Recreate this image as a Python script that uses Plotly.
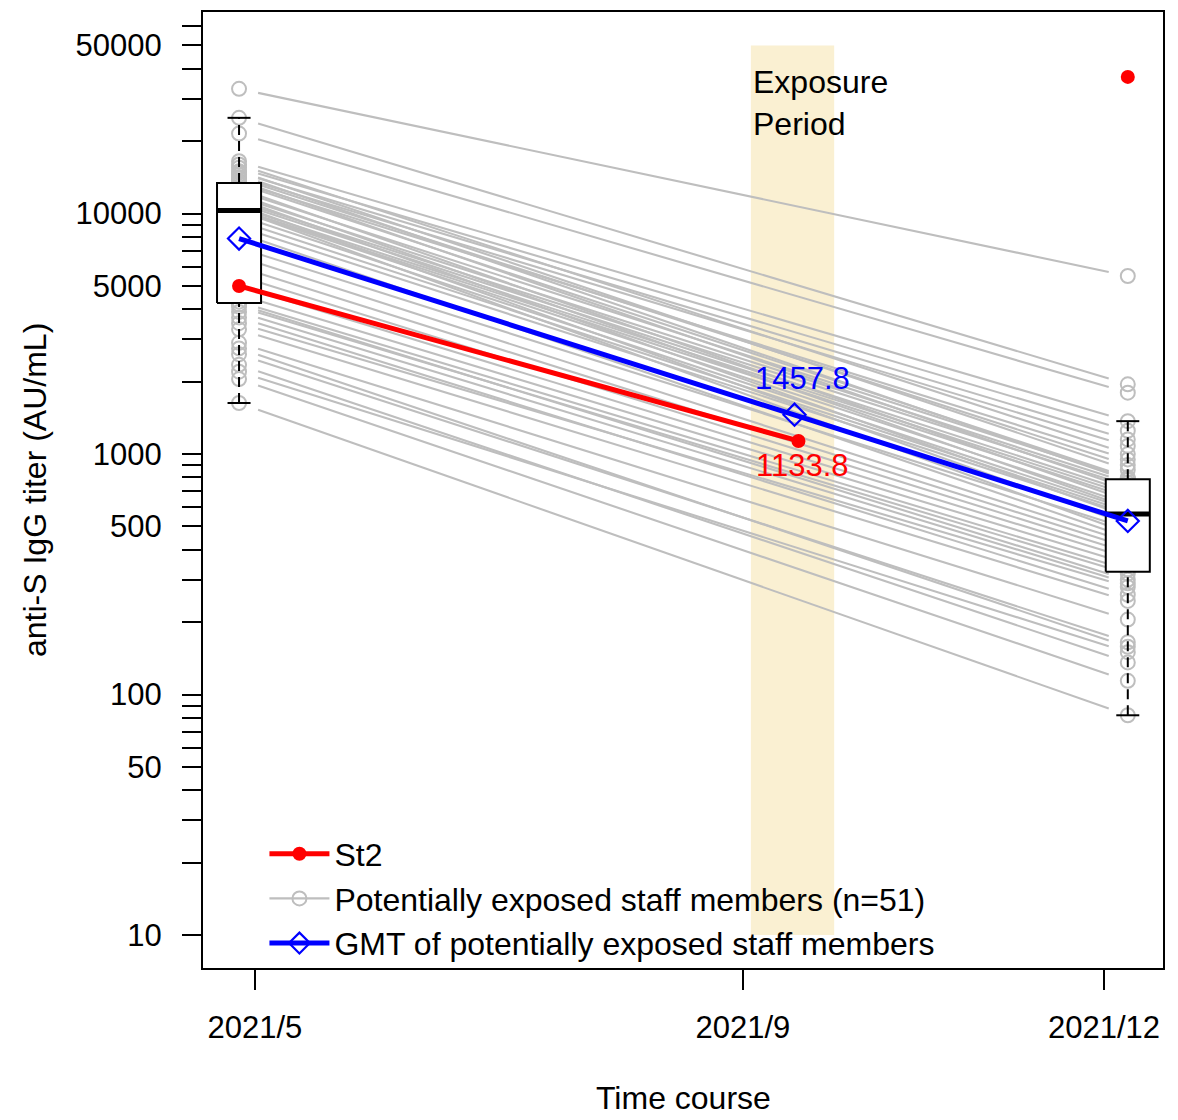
import numpy as np
import pandas as pd
import plotly.graph_objects as go

# ---------------- data ----------------
dates = ["2021-04-27", "2021-12-07"]            # staff sampling dates
staff_may = [33000, 25000, 21500, 16500, 16000, 15500, 15000, 14800, 14500, 14200,
             14000, 13700, 13500, 13300, 12700, 12400, 12000, 11700, 11500, 11200,
             11000, 10800, 10600, 10400, 10300, 10290, 9800, 9300, 8800, 8300,
             7800, 7200, 6600, 6000, 5500, 5000, 4600, 4300, 4190, 4100,
             3900, 3700, 3500, 3300, 2900, 2750, 2600, 2350, 2200, 2050, 1630]
staff_dec = [5500, 1950, 1800, 1370, 1000, 1250, 860, 1150, 780, 1080,
             900, 720, 950, 800, 640, 790, 600, 760, 550, 740,
             700, 510, 680, 660, 470, 620, 590, 575, 563, 450,
             530, 490, 430, 410, 390, 370, 350, 330, 300, 318,
             290, 260, 280, 245, 205, 158, 165, 136, 150, 114, 82]

st2_dates = ["2021-04-27", "2021-09-15"]
st2_vals = [5000, 1133.8]
st2_dec_date = ["2021-12-07"]
st2_dec_val = [37000]

gmt_dates = ["2021-04-27", "2021-09-14", "2021-12-07"]
gmt_vals = [7870, 1457.8, 527]

exposure = ["2021-09-03", "2021-09-24"]
exposure_y = [10, 50000]
x_ticks = ["2021-05-01", "2021-09-01", "2021-12-01"]
x_ticktext = ["2021/5", "2021/9", "2021/12"]
y_labeled = [10, 50, 100, 500, 1000, 5000, 10000, 50000]

FONT = "Liberation Sans, Arial, sans-serif"
GRAY = "#BEBEBE"

fig = go.Figure()

# ---------------- exposure period (background band) ----------------
fig.add_trace(go.Scatter(x=[exposure[0], exposure[1], exposure[1], exposure[0], exposure[0]],
                         y=[exposure_y[0], exposure_y[0], exposure_y[1], exposure_y[1], exposure_y[0]],
                         mode="lines", fill="toself", fillcolor="#FAF0D2",
                         line=dict(width=0, color="rgba(0,0,0,0)"),
                         showlegend=False, hoverinfo="skip"))

# ---------------- staff lines (with gap at points, like R type="b") ----------------
t0 = pd.Timestamp(dates[0]); t1 = pd.Timestamp(dates[1])
span = (t1 - t0) / pd.Timedelta(days=1)
gap = 4.8
f = gap / span
xs, ys = [], []
for a, b in zip(staff_may, staff_dec):
    la, lb = np.log10(a), np.log10(b)
    xs += [t0 + pd.Timedelta(days=gap), t1 - pd.Timedelta(days=gap), None]
    ys += [10 ** (la + f * (lb - la)), 10 ** (lb - f * (lb - la)), None]
fig.add_trace(go.Scatter(x=xs, y=ys, mode="lines", line=dict(color=GRAY, width=2.1),
                         showlegend=False, hoverinfo="skip"))
fig.add_trace(go.Scatter(x=[dates[0]] * len(staff_may) + [dates[1]] * len(staff_dec),
                         y=staff_may + staff_dec, mode="markers",
                         marker=dict(symbol="circle-open", size=14, color=GRAY,
                                     line=dict(width=2, color=GRAY)),
                         showlegend=False))

# ---------------- boxplots (R style) ----------------
def fivenum(v):
    x = np.sort(np.asarray(v, float)); n = len(x)
    n4 = np.floor((n + 3) / 2) / 2
    d = np.array([1, n4, (n + 1) / 2, n + 1 - n4, n]) - 1
    return 0.5 * (x[np.floor(d).astype(int)] + x[np.ceil(d).astype(int)])

def add_box(date, vals):
    c = pd.Timestamp(date)
    lo_, q1, med, q3, hi_ = fivenum(vals)
    iqr = q3 - q1
    arr = np.asarray(vals, float)
    wlo = arr[arr >= q1 - 1.5 * iqr].min()
    whi = arr[arr <= q3 + 1.5 * iqr].max()
    hw = pd.Timedelta(days=5.55)
    sw = pd.Timedelta(days=2.9)
    fig.add_trace(go.Scatter(x=[c, c, None, c, c], y=[wlo, q1, None, q3, whi], mode="lines",
                             line=dict(color="black", width=2, dash="10px,6px"),
                             showlegend=False, hoverinfo="skip"))
    fig.add_trace(go.Scatter(x=[c - sw, c + sw, None, c - sw, c + sw], y=[wlo, wlo, None, whi, whi],
                             mode="lines", line=dict(color="black", width=2),
                             showlegend=False, hoverinfo="skip"))
    fig.add_trace(go.Scatter(x=[c - hw, c + hw, c + hw, c - hw, c - hw], y=[q1, q1, q3, q3, q1],
                             mode="lines", fill="toself", fillcolor="white",
                             line=dict(color="black", width=2),
                             showlegend=False, hoverinfo="skip"))
    fig.add_trace(go.Scatter(x=[c - hw, c + hw], y=[med, med], mode="lines",
                             line=dict(color="black", width=5),
                             showlegend=False, hoverinfo="skip"))

add_box(dates[0], staff_may)
add_box(dates[1], staff_dec)

# ---------------- St2 and GMT ----------------
fig.add_trace(go.Scatter(x=st2_dates, y=st2_vals, mode="lines+markers", name="St2",
                         line=dict(color="#FF0000", width=5),
                         marker=dict(symbol="circle", size=14, color="#FF0000"),
                         legendrank=1))
fig.add_trace(go.Scatter(x=st2_dec_date, y=st2_dec_val, mode="markers",
                         marker=dict(symbol="circle", size=14, color="#FF0000"),
                         showlegend=False))
fig.add_trace(go.Scatter(x=[None], y=[None], mode="lines+markers",
                         name="Potentially exposed staff members (n=51)",
                         line=dict(color=GRAY, width=2.1),
                         marker=dict(symbol="circle-open", size=14, color=GRAY,
                                     line=dict(width=2, color=GRAY)),
                         legendrank=2))
fig.add_trace(go.Scatter(x=gmt_dates, y=gmt_vals, mode="lines+markers",
                         name="GMT of potentially exposed staff members",
                         line=dict(color="#0000FF", width=5),
                         marker=dict(symbol="diamond-open", size=17, color="#0000FF",
                                     line=dict(width=2.2, color="#0000FF")),
                         legendrank=3))

# ---------------- text ----------------
fig.add_annotation(x=exposure[0], y=np.log10(25000), xref="x", yref="y",
                   text="Exposure<br>Period", showarrow=False, xanchor="left", yanchor="middle",
                   align="left", yshift=15, font=dict(family=FONT, size=32, color="black"))
fig.add_annotation(x=gmt_dates[1], y=np.log10(gmt_vals[1]), xref="x", yref="y",
                   text=f"{gmt_vals[1]:.1f}", showarrow=False, xshift=8, yshift=36,
                   font=dict(family=FONT, size=31, color="#0000FF"))
fig.add_annotation(x=st2_dates[1], y=np.log10(st2_vals[1]), xref="x", yref="y",
                   text=f"{st2_vals[1]:.1f}", showarrow=False, xshift=4, yshift=-25,
                   font=dict(family=FONT, size=31, color="#FF0000"))

fig.add_annotation(x=-0.175, y=0.5, xref="paper", yref="paper", text="anti-S IgG titer (AU/mL)",
                   textangle=-90, showarrow=False, xanchor="center", yanchor="middle",
                   font=dict(family=FONT, size=32, color="black"))
fig.add_annotation(x=0.5, y=-0.1357, xref="paper", yref="paper", text="Time course",
                   showarrow=False, xanchor="center", yanchor="middle",
                   font=dict(family=FONT, size=32, color="black"))

# ---------------- axes ----------------
y_tickvals = [m * 10 ** k for k in range(1, 5) for m in range(1, 10)] + [10000 * m for m in range(2, 6)]
y_tickvals = sorted(set(y_tickvals))
y_ticktext = [str(v) if v in y_labeled else "" for v in y_tickvals]

fig.update_yaxes(type="log", range=[0.863, 4.838], tickvals=y_tickvals, ticktext=y_ticktext,
                 ticks="outside", ticklen=19, tickwidth=1.5, tickcolor="black",
                 showline=True, linewidth=2, linecolor="black", mirror=True,
                 showgrid=False, zeroline=False, ticklabelstandoff=14,
                 tickfont=dict(family=FONT, size=31, color="black"))
fig.update_xaxes(type="date", range=["2021-04-17 22:00", "2021-12-15 21:00"],
                 tickvals=x_ticks, ticktext=x_ticktext,
                 ticks="outside", ticklen=20, tickwidth=1.5, tickcolor="black",
                 showline=True, linewidth=2, linecolor="black", mirror=True,
                 showgrid=False, zeroline=False, ticklabelstandoff=11,
                 tickfont=dict(family=FONT, size=31, color="black"))

fig.update_layout(
    width=1178, height=1120,
    margin=dict(l=203, r=15, t=10, b=152),
    plot_bgcolor="white", paper_bgcolor="white",
    font=dict(family=FONT, size=31, color="black"),
    showlegend=True,
    legend=dict(x=0.064, y=0.148, xanchor="left", yanchor="top",
                bgcolor="rgba(0,0,0,0)", borderwidth=0,
                font=dict(family=FONT, size=32, color="black"),
                tracegroupgap=0, itemwidth=60),
)

# remove the default 8px page margin so the figure fills the window exactly
fig.write_html("out.html", config={"displayModeBar": False},
               post_script="document.body.style.margin='0px';document.body.style.overflow='hidden';")
